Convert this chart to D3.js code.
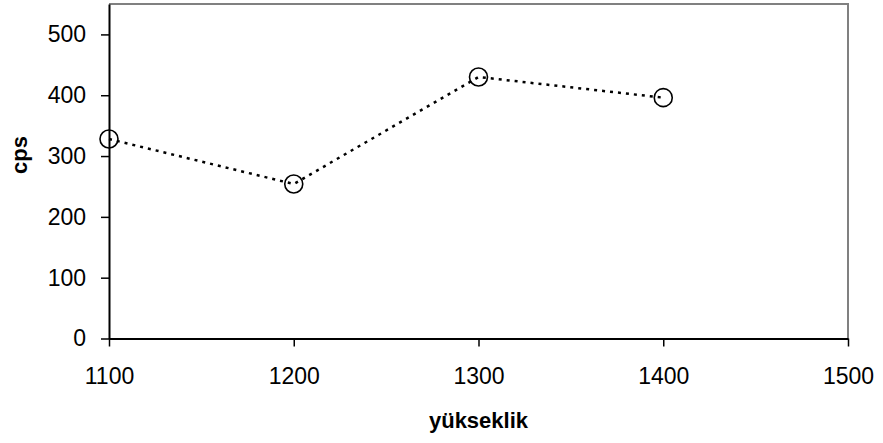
<!DOCTYPE html>
<html>
<head>
<meta charset="utf-8">
<script src="https://cdn.jsdelivr.net/npm/d3@7"></script>
<style>
  body { margin: 0; background: #fff; }
  text { font-family: "Liberation Sans", Arial, sans-serif; }
</style>
</head>
<body>
<script>
// data
const heights = [1100, 1200, 1300, 1400];
const cps = [328, 254, 430, 396];
const xTicks = [1100, 1200, 1300, 1400, 1500];
const yTicks = [0, 100, 200, 300, 400, 500];

const W = 883, H = 443;
const plotL = 109, plotR = 848, plotT = 4, plotB = 338.5;
const fontFam = "'Liberation Sans', Arial, sans-serif";

const svg = d3.select("body").append("svg")
    .attr("width", W).attr("height", H);

const x = d3.scaleLinear().domain([1100, 1500]).range([plotL, plotR]);
const y = d3.scaleLinear().domain([0, 550]).range([plotB, plotT]);

// gray frame top/right
svg.append("path")
    .attr("d", `M${plotL},${plotT}H${plotR}V${plotB}`)
    .attr("fill", "none")
    .attr("stroke", "#808080")
    .attr("stroke-width", 2);

// y axis
const yAxis = svg.append("g")
    .attr("transform", `translate(${plotL},0)`)
    .call(d3.axisLeft(y).tickValues(yTicks).tickSize(8).tickPadding(15).tickSizeOuter(0));
yAxis.select(".domain").attr("stroke", "#000").attr("stroke-width", 2);
yAxis.selectAll(".tick line").attr("stroke", "#000").attr("stroke-width", 1.5);
yAxis.selectAll(".tick text").attr("font-size", 23).attr("fill", "#000")
    .style("font-family", fontFam);

// x axis
const xAxis = svg.append("g")
    .attr("transform", `translate(0,${plotB})`)
    .call(d3.axisBottom(x).tickValues(xTicks).tickFormat(d3.format("d")).tickSize(8).tickPadding(21).tickSizeOuter(0));
xAxis.select(".domain").attr("stroke", "#000").attr("stroke-width", 2);
xAxis.selectAll(".tick line").attr("stroke", "#000").attr("stroke-width", 1.5);
xAxis.selectAll(".tick text").attr("font-size", 23).attr("fill", "#000")
    .style("font-family", fontFam);

// axis titles
svg.append("text")
    .attr("x", (plotL + plotR) / 2).attr("y", 428)
    .attr("text-anchor", "middle")
    .attr("font-size", 22).attr("font-weight", "bold")
    .text("yükseklik");

svg.append("text")
    .attr("transform", `translate(27,155) rotate(-90)`)
    .attr("text-anchor", "middle")
    .attr("font-size", 22).attr("font-weight", "bold")
    .text("cps");

const pts = heights.map((h, i) => [h, cps[i]]);

// dotted line
svg.append("path")
    .datum(pts)
    .attr("d", d3.line().x(d => x(d[0])).y(d => y(d[1])))
    .attr("fill", "none")
    .attr("stroke", "#000")
    .attr("stroke-width", 2.5)
    .attr("stroke-dasharray", "3,5");

// circle markers
svg.selectAll("circle.m")
    .data(pts).enter().append("circle")
    .attr("class", "m")
    .attr("cx", d => x(d[0]))
    .attr("cy", d => y(d[1]))
    .attr("r", 9)
    .attr("fill", "none")
    .attr("stroke", "#000")
    .attr("stroke-width", 1.6);
</script>
</body>
</html>
